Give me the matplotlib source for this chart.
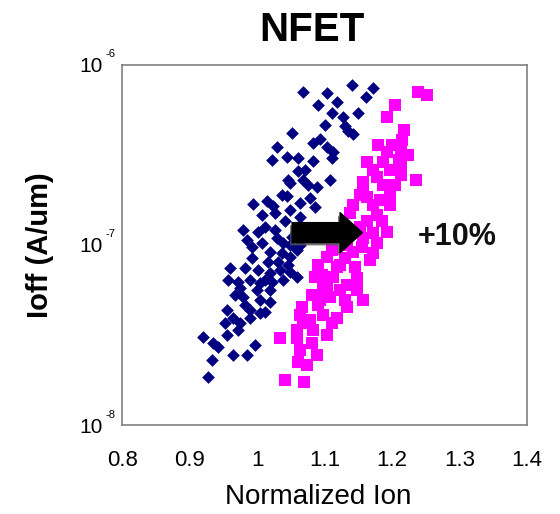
import numpy as np
import matplotlib
matplotlib.use("Agg")
import matplotlib.pyplot as plt
import matplotlib.patheffects as pe

plt.rcParams['font.family'] = ['Liberation Sans', 'DejaVu Sans']

# ---------------- data ----------------
base_ion = [1.141, 1.172, 1.068, 1.104, 1.161, 1.090, 1.118, 1.111, 1.150, 1.127,
            1.130, 1.135, 1.142, 1.052, 1.093, 1.083, 1.104, 1.030, 1.113, 1.044,
            1.061, 1.111, 1.022, 1.083, 1.061, 1.046, 1.068, 1.108, 1.076, 1.089,
            1.049, 1.044, 1.064, 1.078, 0.994, 1.015, 1.024, 1.027, 1.049, 1.086,
            1.064, 0.979, 0.985, 0.993, 1.027, 1.030, 1.039, 1.052, 1.019, 1.037,
            1.049, 1.059, 0.993, 1.016, 0.960, 1.001, 1.019, 1.034, 1.049, 1.059,
            0.957, 0.972, 0.990, 1.004, 1.022, 1.039, 0.975, 1.000, 1.019, 0.979,
            1.004, 1.019, 0.956, 0.990, 1.004, 0.953, 0.975, 0.990, 0.972, 0.956,
            0.920, 0.935, 0.942, 0.997, 0.964, 0.985, 0.933, 0.927, 1.012, 1.041,
            1.007, 1.046, 1.031, 0.982, 0.967, 1.012, 1.061, 1.064,
            1.007, 1.037, 1.001, 1.049, 1.012, 0.982, 0.964, 1.101, 1.071]
base_ioff = [7.74e-7, 7.45e-7, 7.08e-7, 6.99e-7, 6.64e-7, 5.99e-7, 6.23e-7, 5.41e-7, 5.41e-7, 5.14e-7,
             4.58e-7, 4.29e-7, 4.14e-7, 4.20e-7, 3.88e-7, 3.68e-7, 3.50e-7, 3.50e-7, 3.29e-7, 3.08e-7,
             3.04e-7, 3.04e-7, 2.97e-7, 2.93e-7, 2.58e-7, 2.30e-7, 2.30e-7, 2.30e-7, 2.15e-7, 2.10e-7,
             2.21e-7, 1.87e-7, 1.71e-7, 1.82e-7, 1.69e-7, 1.76e-7, 1.65e-7, 1.50e-7, 1.56e-7, 1.63e-7,
             1.43e-7, 1.21e-7, 1.06e-7, 9.75e-8, 1.21e-7, 1.09e-7, 1.03e-7, 1.10e-7, 9.15e-8, 9.03e-8,
             8.58e-8, 9.38e-8, 8.47e-8, 8.04e-8, 7.45e-8, 7.26e-8, 6.99e-8, 7.26e-8, 7.08e-8, 6.64e-8,
             6.39e-8, 6.23e-8, 6.39e-8, 6.15e-8, 6.23e-8, 6.39e-8, 5.77e-8, 5.62e-8, 5.62e-8, 5.14e-8,
             4.95e-8, 4.83e-8, 4.35e-8, 4.35e-8, 4.20e-8, 3.68e-8, 3.68e-8, 3.93e-8, 3.37e-8, 3.16e-8,
             3.08e-8, 2.86e-8, 2.71e-8, 2.78e-8, 2.45e-8, 2.45e-8, 2.30e-8, 1.84e-8, 1.26e-7, 1.35e-7,
             1.03e-7, 7.74e-8, 8.04e-8, 7.45e-8, 5.27e-8, 4.24e-8, 1.26e-7, 1.00e-7,
             1.47e-7, 1.89e-7, 1.18e-7, 1.00e-7, 6.39e-8, 4.64e-8, 3.93e-8, 4.64e-7, 2.61e-7]

new_ion = [1.238, 1.252, 1.204, 1.192, 1.218, 1.215, 1.213, 1.179, 1.192, 1.163,
           1.187, 1.172, 1.197, 1.213, 1.213, 1.236, 1.178, 1.157, 1.157, 1.187,
           1.197, 1.163, 1.142, 1.172, 1.197, 1.138, 1.178, 1.163, 1.185, 1.192,
           1.172, 1.157, 1.178, 1.156, 1.142, 1.172, 1.111, 1.104, 1.130, 1.167,
           1.090, 1.118, 1.145, 1.086, 1.113, 1.148, 1.104, 1.133, 1.098, 1.123,
           1.148, 1.081, 1.108, 1.157, 1.133, 1.067, 1.090, 1.064, 1.098, 1.118,
           1.111, 1.068, 1.059, 1.083, 1.104, 1.034, 1.059, 1.081, 1.064, 1.089,
           1.061, 1.074, 1.041, 1.070, 1.137, 1.133, 1.210,
           1.153, 1.204, 1.182, 1.153, 1.123, 1.096, 1.130, 1.078, 1.093, 1.200, 1.224]
new_ioff = [7.08e-7, 6.81e-7, 5.99e-7, 5.14e-7, 4.35e-7, 3.83e-7, 3.37e-7, 3.59e-7, 3.29e-7, 2.90e-7,
            2.90e-7, 2.61e-7, 2.61e-7, 2.71e-7, 2.45e-7, 2.30e-7, 2.39e-7, 2.24e-7, 2.10e-7, 2.15e-7,
            1.89e-7, 1.84e-7, 1.67e-7, 1.67e-7, 1.67e-7, 1.50e-7, 1.47e-7, 1.35e-7, 1.35e-7, 1.18e-7,
            1.17e-7, 1.09e-7, 1.02e-7, 9.75e-8, 9.15e-8, 9.03e-8, 9.38e-8, 8.58e-8, 8.47e-8, 8.25e-8,
            7.74e-8, 7.54e-8, 7.54e-8, 6.64e-8, 6.64e-8, 6.56e-8, 5.99e-8, 5.99e-8, 5.77e-8, 5.62e-8,
            5.62e-8, 5.27e-8, 5.14e-8, 4.95e-8, 4.52e-8, 4.52e-8, 4.64e-8, 4.09e-8, 4.09e-8, 3.93e-8,
            3.68e-8, 3.68e-8, 3.37e-8, 3.37e-8, 3.16e-8, 3.04e-8, 3.04e-8, 2.86e-8, 2.61e-8, 2.45e-8,
            2.24e-8, 2.15e-8, 1.78e-8, 1.74e-8, 1.18e-7, 1.00e-7, 2.97e-7,
            1.89e-7, 2.15e-7, 1.78e-7, 1.26e-7, 7.74e-8, 6.81e-8, 4.95e-8, 3.83e-8, 4.95e-8, 3.59e-7, 3.16e-7]

arrow_start = (1.052, 1.17e-7)
arrow_end = (1.156, 1.17e-7)
gain_label = "+10%"
gain_pos = (1.238, 1.10e-7)

x_ticks = [0.8, 0.9, 1.0, 1.1, 1.2, 1.3, 1.4]
x_tick_labels = ["0.8", "0.9", "1", "1.1", "1.2", "1.3", "1.4"]
y_ticks = [1e-8, 1e-7, 1e-6]

# ---------------- figure ----------------
fig = plt.figure(figsize=(5.6, 5.14), dpi=100)
ax = fig.add_axes([0.218, 0.173, 0.723, 0.701])

ax.scatter(base_ion, base_ioff, marker='D', s=42, color='#000080', linewidths=0, zorder=3)
ax.scatter(new_ion, new_ioff, marker='s', s=66, color='#FF00FF', linewidths=0, zorder=2)

ax.annotate("", xy=arrow_end, xytext=arrow_start,
            arrowprops=dict(arrowstyle="simple,head_length=1.0,head_width=1.8,tail_width=0.9",
                            mutation_scale=16, color='black', shrinkA=0, shrinkB=0,
                            path_effects=[pe.SimplePatchShadow(offset=(-1.5, -2), shadow_rgbFace='#555555', alpha=0.8),
                                          pe.Normal()]),
            zorder=5)
ax.text(gain_pos[0], gain_pos[1], gain_label, fontsize=22, fontweight='bold',
        ha='left', va='center', color='#111111', zorder=6)

ax.set_yscale('log')
ax.set_xlim(0.8, 1.4)
ax.set_ylim(1e-8, 1e-6)
ax.set_xticks(x_ticks)
ax.set_xticklabels(x_tick_labels, fontsize=16)
ax.set_yticks(y_ticks)
ax.set_yticklabels(["10"] * len(y_ticks), fontsize=15)
ax.yaxis.set_minor_locator(matplotlib.ticker.NullLocator())
ax.tick_params(axis='x', length=0, pad=18)
ax.tick_params(axis='y', length=0, pad=14)
for v in y_ticks:
    ax.annotate(str(int(round(np.log10(v)))), xy=(0, v), xycoords=('axes fraction', 'data'),
                xytext=(-5, 4), textcoords='offset points', fontsize=8,
                ha='right', va='bottom')

for s in ax.spines.values():
    s.set_color('#808080')
    s.set_linewidth(1.2)

ax.set_xlabel("Normalized Ion", fontsize=20, va='center')
ax.xaxis.set_label_coords(0.484, -0.2)
ax.set_ylabel("Ioff (A/um)", fontsize=21, fontweight='bold', va='center')
ax.yaxis.set_label_coords(-0.202, 0.5)

fig.text(312 / 560, 1 - 30 / 514, "NFET", ha='center', va='center', fontsize=29, fontweight='bold')

fig.savefig("out.png", dpi=100)
